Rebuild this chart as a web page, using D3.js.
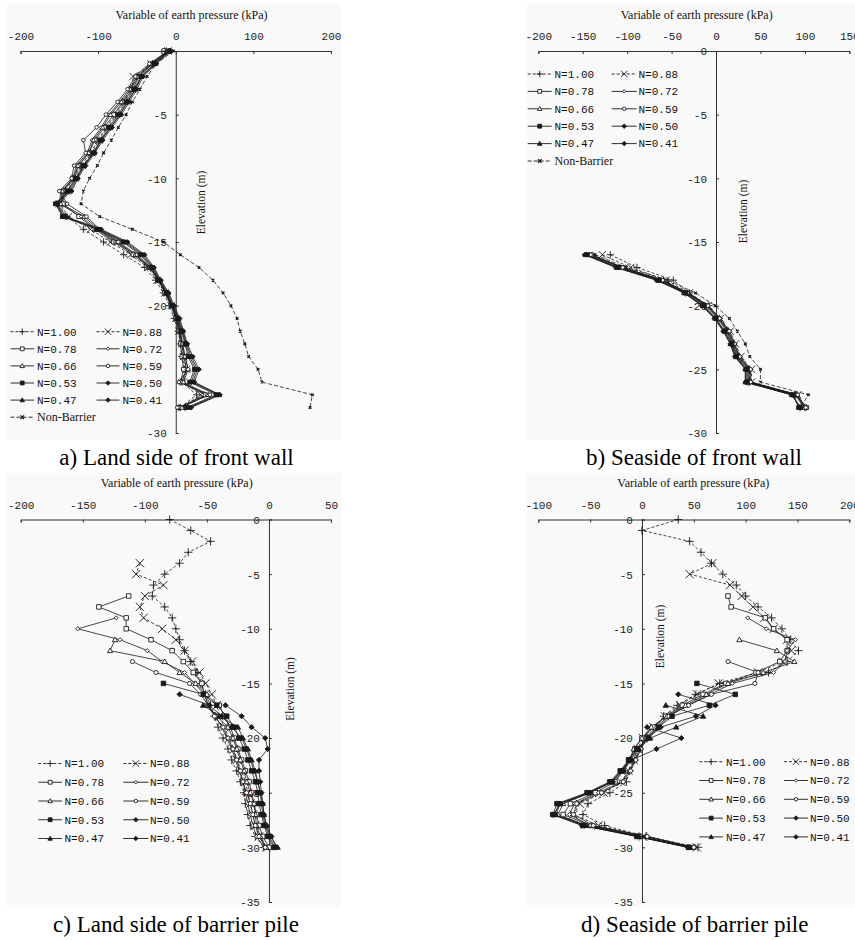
<!DOCTYPE html>
<html>
<head>
<meta charset="utf-8">
<script src="https://cdn.jsdelivr.net/npm/d3@7"></script>
<style>
  body { margin: 0; background: #fff; }
  svg { display: block; }
</style>
</head>
<body>
<svg id="chart" width="855" height="940"></svg>
<script>
// ---------- data ----------
const seriesNames = ["N=1.00", "N=0.88", "N=0.78", "N=0.72", "N=0.66",
                     "N=0.59", "N=0.53", "N=0.50", "N=0.47", "N=0.41"];
const noBarrierName = "Non-Barrier";

const axisTitle = "Variable of earth pressure (kPa)";
const elevationTitle = "Elevation (m)";
const captions = ["a) Land side of front wall", "b) Seaside of front wall",
                  "c) Land side of barrier pile", "d) Seaside of barrier pile"];

const pressureTicksA = [-200, -100, 0, 100, 200];
const pressureTicksB = [-200, -150, -100, -50, 0, 50, 100, 150];
const pressureTicksC = [-200, -150, -100, -50, 0, 50];
const pressureTicksD = [-100, -50, 0, 50, 100, 150, 200];
const elevTicksWallLand = [0, -5, -10, -15, -20, -30];   // -25 sits under the legend
const elevTicksWallSea = [0, -5, -10, -15, -20, -25, -30];
const elevTicksPile = [0, -5, -10, -15, -20, -25, -30, -35];

// a) land side of front wall, elevations 0 .. -28 m
const elevWallLand = [0, -1, -2, -3, -4, -5, -6, -7, -8, -9, -10, -11, -12, -13, -14,
                      -15, -16, -17, -18, -19, -20, -21, -22, -23, -24, -25, -26, -27, -28];
const wallLand = [
  [-12, -30, -50, -58, -68, -78, -90, -100, -110, -122, -132, -142, -152, -140, -119, -93, -67, -40, -26, -16, -8, -2, 3, 6, 8, 12, 8, 27, 6],
  [-10, -32, -55, -56, -66, -76, -88, -99, -108, -120, -130, -140, -150, -138, -110, -84, -58, -36, -24, -14, -6, 0, 4, 8, 10, 14, 10, 32, 8],
  [-8, -30, -48, -55, -68, -80, -92, -104, -112, -125, -133, -145, -145, -125, -104, -80, -55, -34, -22, -14, -6, 0, 4, 6, 8, 10, 6, 38, 4],
  [-10, -32, -50, -60, -72, -86, -96, -108, -114, -128, -132, -148, -150, -122, -102, -78, -52, -34, -22, -13, -5, 1, 5, 8, 10, 14, 8, 40, 6],
  [-9, -30, -48, -58, -70, -84, -94, -106, -112, -126, -130, -146, -148, -118, -100, -76, -52, -33, -22, -13, -5, 1, 5, 8, 12, 16, 10, 42, 8],
  [-10, -34, -52, -62, -75, -90, -102, -119, -116, -131, -134, -150, -140, -115, -98, -74, -50, -32, -21, -12, -4, 2, 6, 9, 12, 16, 4, 44, 2],
  [-8, -28, -45, -54, -64, -74, -86, -97, -106, -119, -129, -140, -155, -146, -102, -68, -46, -31, -22, -12, -5, 2, 7, 12, 16, 24, 18, 52, 14],
  [-8, -27, -44, -52, -62, -72, -84, -96, -106, -118, -128, -138, -153, -144, -100, -66, -44, -30, -21, -11, -4, 3, 8, 13, 18, 26, 20, 55, 16],
  [-7, -26, -44, -52, -62, -72, -84, -96, -105, -118, -127, -136, -154, -145, -98, -64, -42, -29, -20, -10, -3, 4, 9, 14, 20, 28, 22, 56, 18],
  [-6, -25, -42, -50, -60, -70, -82, -94, -104, -116, -126, -134, -152, -142, -96, -62, -40, -28, -19, -9, -2, 5, 10, 15, 22, 30, 24, 57, 20]
];
const wallLandNoBarrier = [-3, -25, -37, -46, -56, -64, -74, -83, -93, -101, -111, -119, -122, -98, -56,
                           -16, 6, 30, 48, 61, 71, 79, 83, 89, 94, 106, 111, 176, 173];

// b) seaside of front wall, elevations -16 .. -28 m
const elevWallSea = [-16, -17, -18, -19, -20, -21, -22, -23, -24, -25, -26, -27, -28];
const wallSea = [
  [-119, -89, -48, -30, -8, 4, 14, 20, 26, 38, 38, 90, 100],
  [-128, -96, -56, -30, -9, 5, 16, 22, 28, 40, 40, 92, 98],
  [-140, -105, -60, -32, -10, 3, 13, 19, 25, 37, 37, 90, 102],
  [-142, -106, -61, -33, -11, 3, 14, 20, 26, 38, 38, 91, 100],
  [-143, -107, -62, -33, -12, 2, 12, 18, 24, 36, 36, 89, 99],
  [-141, -105, -60, -32, -9, 4, 15, 21, 27, 39, 39, 92, 101],
  [-145, -110, -64, -34, -14, 0, 10, 18, 23, 35, 35, 87, 93],
  [-146, -111, -65, -35, -15, -1, 9, 17, 22, 34, 34, 86, 94],
  [-147, -112, -66, -36, -15, -1, 9, 16, 22, 33, 33, 85, 95],
  [-148, -113, -67, -36, -16, -2, 8, 16, 21, 33, 33, 85, 96]
];
const wallSeaNoBarrier = [-136, -101, -54, -23, -1, 15, 24, 33, 38, 50, 50, 104, 95];

// c) and d) barrier pile, elevations 0 .. -30 m (null = no reading)
const elevPile = [0, -1, -2, -3, -4, -5, -6, -7, -8, -9, -10, -11, -12, -13, -14, -15,
                  -16, -17, -18, -19, -20, -21, -22, -23, -24, -25, -26, -27, -28, -29, -30];
const _ = null;
const pileLand = [
  [-80, -63, -47, -65, -72, -84, -93, -94, -84, -78, -75, -72, -68, -63, -58, -55, -51, -47, -44, -41, -37, -33, -30, -26, -23, -20, -19, -17, -15, -11, -4],
  [_, _, _, _, -104, -107, -85, -100, -104, -101, -86, -75, -68, -62, -56, -51, -46, -42, -40, -36, -32, -28, -26, -22, -19, -17, -15, -13, -11, -8, -2],
  [_, _, _, _, _, _, _, -113, -137, -115, -115, -95, -78, -69, -61, -54, -52, -40, -36, -31, -28, -25, -22, -19, -16, -14, -12, -10, -8, -5, 0],
  [_, _, _, _, _, _, _, _, _, -123, -154, -120, -98, -86, -68, -60, -52, -49, -43, -38, -34, -30, -27, -24, -21, -19, -17, -15, -13, -10, -4],
  [_, _, _, _, _, _, _, _, _, _, _, -124, -128, -84, -72, -59, -50, -50, -42, -33, -29, -26, -23, -20, -18, -15, -12, -11, -10, -7, -2],
  [_, _, _, _, _, _, _, _, _, _, _, _, _, -110, -91, -64, -55, -49, -44, -37, -33, -29, -26, -23, -21, -18, -15, -13, -11, -8, -3],
  [_, _, _, _, _, _, _, _, _, _, _, _, _, _, _, -85, -53, -42, -34, -28, -24, -20, -17, -14, -11, -9, -8, -6, -4, -1, 4],
  [_, _, _, _, _, _, _, _, _, _, _, _, _, _, _, _, -72, -48, -38, -30, -22, -18, -15, -12, -9, -7, -6, -5, -3, 0, 5],
  [_, _, _, _, _, _, _, _, _, _, _, _, _, _, _, _, _, -53, -40, -25, -21, -17, -14, -11, -9, -7, -5, -4, -2, 1, 7],
  [_, _, _, _, _, _, _, _, _, _, _, _, _, _, _, _, _, -35, -22, -14, -3, -1, -8, -8, -7, -6, -5, -4, -2, 2, 6]
];
const pileSea = [
  [35, 0, 46, 57, 67, 78, 91, 100, 112, 125, 135, 143, 151, 140, 122, 75, 52, 34, 21, 14, 5, -2, -7, -12, -15, -31, -52, -57, -36, 4, 54],
  [_, _, _, _, 68, 46, 85, 96, 107, 118, 127, 140, 144, 136, 112, 74, 53, 37, 22, 11, 1, -4, -8, -13, -20, -37, -60, -66, -42, 1, 53],
  [_, _, _, _, _, _, _, 83, 86, 119, 127, 140, 140, 133, 110, 81, 59, 39, 23, 11, 0, -7, -12, -18, -26, -45, -69, -76, -49, -2, 50],
  [_, _, _, _, _, _, _, _, _, 102, 120, 148, 140, 138, 127, 87, 66, 44, 25, 14, 3, -2, -7, -12, -20, -42, -65, -70, -50, 5, 50],
  [_, _, _, _, _, _, _, _, _, _, _, 94, 130, 147, 117, 83, 62, 42, 24, 9, 0, -8, -12, -20, -29, -50, -76, -81, -53, -2, 46],
  [_, _, _, _, _, _, _, _, _, _, _, _, _, 83, 112, 109, 67, 45, 26, 16, 4, -1, -6, -11, -18, -39, -63, -66, -47, 5, 50],
  [_, _, _, _, _, _, _, _, _, _, _, _, _, _, _, 53, 90, 65, 29, 16, 6, -5, -13, -21, -31, -53, -82, -86, -57, -5, 45],
  [_, _, _, _, _, _, _, _, _, _, _, _, _, _, _, _, 35, 71, 52, 18, 6, -4, -12, -20, -30, -52, -80, -84, -55, -4, 45],
  [_, _, _, _, _, _, _, _, _, _, _, _, _, _, _, _, _, 23, 59, 33, 8, -3, -11, -19, -29, -51, -79, -83, -54, -3, 46],
  [_, _, _, _, _, _, _, _, _, _, _, _, _, _, _, _, _, _, _, 5, 38, 14, -10, -18, -28, -50, -78, -86, -58, -5, 44]
];

// ---------- styling ----------
const markerKinds = ["plus", "cross", "square", "diamond", "triangle", "circle",
                     "squareF", "diamondF", "triangleF", "diamondF"];
const lineDashes = ["3,2", "3,2", null, null, null, null, null, null, null, null];
const INK = "#1a1a1a";
const PANEL_FILL = "#f9f9f9";
const MONO = "'Liberation Mono', 'DejaVu Sans Mono', monospace";
const SERIF = "'Liberation Serif', 'Times New Roman', serif";

function markerPath(kind, s) {
  let a;
  switch (kind) {
    case "plus": return `M${-s},0H${s}M0,${-s}V${s}`;
    case "cross": return `M${-s},${-s}L${s},${s}M${-s},${s}L${s},${-s}`;
    case "xsmall": a = s * 0.45; return `M${-a},${-a}L${a},${a}M${-a},${a}L${a},${-a}`;
    case "square": case "squareF": a = s * 0.68; return `M${-a},${-a}H${a}V${a}H${-a}Z`;
    case "diamond": a = s * 0.62; return `M0,${-a}L${a},0L0,${a}L${-a},0Z`;
    case "diamondF": a = s * 0.8; return `M0,${-a}L${a},0L0,${a}L${-a},0Z`;
    case "triangle": case "triangleF": a = s * 0.8; return `M0,${-a}L${a},${a * 0.75}L${-a},${a * 0.75}Z`;
    case "circle": a = s * 0.62; return `M${a},0A${a},${a} 0 1,1 ${-a},0A${a},${a} 0 1,1 ${a},0Z`;
  }
}
const isFilled = k => k.endsWith("F");
const isStroke = k => k === "plus" || k === "cross" || k === "xsmall";

const svg = d3.select("#chart");

function drawMarker(g, kind, cx, cy, s) {
  g.append("path")
    .attr("transform", `translate(${cx},${cy})`)
    .attr("d", markerPath(kind, s))
    .attr("fill", isFilled(kind) ? INK : (isStroke(kind) ? "none" : "#fff"))
    .attr("stroke", INK)
    .attr("stroke-width", kind === "xsmall" ? 1.3 : 0.9);
}

function drawPanel(p) {
  const g = svg.append("g");
  g.append("rect").attr("x", p.bg[0]).attr("y", p.bg[1])
    .attr("width", p.bg[2]).attr("height", p.bg[3]).attr("fill", PANEL_FILL);

  const x = d3.scaleLinear().domain(p.xDomain).range(p.xRange);
  const y = d3.scaleLinear().domain(p.yDomain).range(p.yRange);

  // top pressure axis
  const xa = g.append("g").attr("transform", `translate(0,${y(0)})`)
    .call(d3.axisTop(x).tickValues(p.xTicks).tickSize(-3).tickPadding(11).tickFormat(d => String(d)));
  // elevation axis through zero pressure
  const ya = g.append("g").attr("transform", `translate(${x(0)},0)`)
    .call(d3.axisLeft(y).tickValues(p.yTicks).tickSize(-3).tickPadding(9).tickFormat(d => String(d)));
  [xa, ya].forEach(a => {
    a.selectAll("path,line").attr("stroke", "#333").attr("stroke-width", 1);
    a.selectAll("text").attr("font-family", MONO).attr("font-size", "11px").attr("fill", "#222");
  });
  ya.selectAll("text").attr("dy", "0.35em");

  g.append("text").attr("x", p.titleX).attr("y", p.titleY).attr("text-anchor", "middle")
    .attr("font-family", SERIF).attr("font-size", "12px").attr("fill", "#111").text(axisTitle);
  g.append("text")
    .attr("transform", `translate(${p.elevLabel.x},${y(p.elevLabel.e)}) rotate(-90)`)
    .attr("text-anchor", "middle").attr("dy", "0.35em")
    .attr("font-family", SERIF).attr("font-size", "11.5px").attr("fill", "#111").text(elevationTitle);
  svg.append("text").attr("x", p.capX).attr("y", p.capY).attr("text-anchor", "middle")
    .attr("font-family", SERIF).attr("font-size", "23px").attr("fill", "#000").text(p.caption);

  const series = p.values.map((vals, i) => ({
    kind: markerKinds[i], dash: lineDashes[i],
    pts: p.elev.map((e, j) => ({ e, v: vals[j] })).filter(d => d.v != null)
  }));
  if (p.noBarrier) {
    series.unshift({ kind: "xsmall", dash: "4,2",
      pts: p.elev.map((e, j) => ({ e, v: p.noBarrier[j] })) });
  }
  const line = d3.line().x(d => x(d.v)).y(d => y(d.e));
  const plot = g.append("g");
  series.forEach(s => {
    plot.append("path").attr("d", line(s.pts)).attr("fill", "none")
      .attr("stroke", INK).attr("stroke-width", 0.8)
      .attr("stroke-dasharray", s.dash);
  });
  series.forEach(s => {
    const size = (s.kind === "plus" || s.kind === "cross") ? p.ms * 1.25 : p.ms;
    s.pts.forEach(d => drawMarker(plot, s.kind, x(d.v), y(d.e), size));
  });

  // legend
  const L = p.legend;
  const lg = g.append("g");
  const entries = seriesNames.map((n, i) => ({ n, kind: markerKinds[i], dash: lineDashes[i], row: Math.floor(i / 2), col: i % 2 }));
  if (p.noBarrier) entries.push({ n: noBarrierName, kind: "xsmall", dash: "4,2", row: 5, col: 0, serif: true });
  entries.forEach(en => {
    const c = en.col === 0 ? L.c1 : L.c2;
    const yy = L.y0 + en.row * L.dy;
    lg.append("line").attr("x1", c[0]).attr("x2", c[1]).attr("y1", yy).attr("y2", yy)
      .attr("stroke", INK).attr("stroke-width", 0.9).attr("stroke-dasharray", en.dash);
    const size = (en.kind === "plus" || en.kind === "cross") ? 3.2 : (en.kind === "xsmall" ? 4 : 2.8);
    drawMarker(lg, en.kind, (c[0] + c[1]) / 2, yy, size);
    lg.append("text").attr("x", c[2]).attr("y", yy).attr("dy", "0.35em")
      .attr("font-family", en.serif ? SERIF : MONO).attr("font-size", en.serif ? "12px" : "11px")
      .attr("fill", "#111").text(en.n);
  });
}

const panels = [
  { values: wallLand, noBarrier: wallLandNoBarrier, elev: elevWallLand,
    xDomain: [-200, 200], xRange: [20.5, 331], xTicks: pressureTicksA,
    yDomain: [0, -30], yRange: [51, 433], yTicks: elevTicksWallLand,
    bg: [7, 4, 334, 436], titleX: 191.5, titleY: 19,
    caption: captions[0], capX: 176.5, capY: 465, elevLabel: { x: 201, e: -11.9 }, ms: 2.9,
    legend: { y0: 331.7, dy: 17.1, c1: [10.5, 34, 37], c2: [96.5, 119.5, 122.5] } },
  { values: wallSea, noBarrier: wallSeaNoBarrier, elev: elevWallSea,
    xDomain: [-200, 150], xRange: [538.3, 849.3], xTicks: pressureTicksB,
    yDomain: [0, -30], yRange: [51, 433], yTicks: elevTicksWallSea,
    bg: [527, 4, 328, 436], titleX: 696.7, titleY: 19,
    caption: captions[1], capX: 694, capY: 465, elevLabel: { x: 742.5, e: -12.6 }, ms: 2.9,
    legend: { y0: 74, dy: 17.4, c1: [527.7, 551.7, 554.5], c2: [611.7, 636.7, 638.5] } },
  { values: pileLand, noBarrier: null, elev: elevPile,
    xDomain: [-200, 50], xRange: [20.7, 331], xTicks: pressureTicksC,
    yDomain: [0, -35], yRange: [519.5, 902], yTicks: elevTicksPile,
    bg: [7, 473, 334, 434], titleX: 176.7, titleY: 487,
    caption: captions[2], capX: 176, capY: 932, elevLabel: { x: 290, e: -15.5 }, ms: 3.3,
    legend: { y0: 763.5, dy: 18.75, c1: [38.3, 62, 64.5], c2: [123.3, 148.3, 150] } },
  { values: pileSea, noBarrier: null, elev: elevPile,
    xDomain: [-100, 200], xRange: [538.3, 849.3], xTicks: pressureTicksD,
    yDomain: [0, -35], yRange: [519.5, 902], yTicks: elevTicksPile,
    bg: [527, 473, 328, 434], titleX: 693.3, titleY: 487,
    caption: captions[3], capX: 694.7, capY: 932, elevLabel: { x: 660, e: -10.7 }, ms: 3.3,
    legend: { y0: 761.7, dy: 18.8, c1: [699.3, 723, 726], c2: [784, 808, 810] } }
];

panels.forEach(drawPanel);
</script>
</body>
</html>
